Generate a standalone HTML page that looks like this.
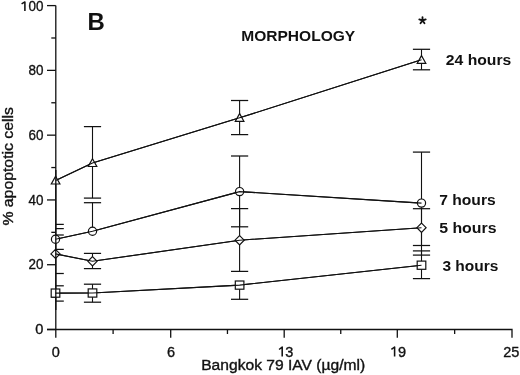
<!DOCTYPE html>
<html><head><meta charset="utf-8"><style>
html,body{margin:0;padding:0;background:#fff;width:520px;height:375px;overflow:hidden}
svg{display:block;will-change:transform}
text{font-family:"Liberation Sans",sans-serif;fill:#111}
text.r{stroke:#111;stroke-width:.35}
</style></head><body>
<svg width="520" height="375" viewBox="0 0 520 375">
<g stroke="#111" stroke-width="1.3" fill="none">
<path d="M55.8 5.5V337.7M47 329.5H512V337.7"/>
<path d="M47 329.50H55.8"/>
<path d="M51.3 297.11H55.8"/>
<path d="M47 264.72H55.8"/>
<path d="M51.3 232.33H55.8"/>
<path d="M47 199.94H55.8"/>
<path d="M51.3 167.55H55.8"/>
<path d="M47 135.16H55.8"/>
<path d="M51.3 102.77H55.8"/>
<path d="M47 70.38H55.8"/>
<path d="M51.3 37.99H55.8"/>
<path d="M47 5.60H55.8"/>
<path d="M113.10 329.5V334"/>
<path d="M170.70 329.5V337.7"/>
<path d="M227.45 329.5V334"/>
<path d="M284.20 329.5V337.7"/>
<path d="M340.75 329.5V334"/>
<path d="M397.30 329.5V337.7"/>
<path d="M454.65 329.5V334"/>
</g>
<g stroke="#111" stroke-width="1.1" fill="none">
<path d="M55.6 180.5 L92.5 163 L239.6 117.8 L421.5 59.8"/>
<path d="M92.5 126.6V198.1"/>
<path stroke-width="1.25" d="M83.9 126.6H101.1"/>
<path stroke-width="1.25" d="M83.9 198.1H101.1"/>
<path d="M239.6 100.5V134.6"/>
<path stroke-width="1.25" d="M231.0 100.5H248.2"/>
<path stroke-width="1.25" d="M231.0 134.6H248.2"/>
<path d="M421.5 49.3V69.8"/>
<path stroke-width="1.25" d="M412.9 49.3H430.1"/>
<path stroke-width="1.25" d="M412.9 69.8H430.1"/>
<path d="M55.5 239.3 L92.5 231.3 L239.6 191.6 L421.5 203.1"/>
<path d="M92.5 202.7V231.3"/>
<path stroke-width="1.25" d="M83.9 202.7H101.1"/>
<path d="M239.6 156.0V226.8"/>
<path stroke-width="1.25" d="M231.0 156.0H248.2"/>
<path stroke-width="1.25" d="M231.0 226.8H248.2"/>
<path d="M421.5 152.1V255.1"/>
<path stroke-width="1.25" d="M412.9 152.1H430.1"/>
<path stroke-width="1.25" d="M412.9 255.1H430.1"/>
<path d="M55.5 253.9 L92.5 261.3 L239.6 240.2 L421.5 227.7"/>
<path d="M92.5 253.4V268.6"/>
<path stroke-width="1.25" d="M83.9 253.4H101.1"/>
<path stroke-width="1.25" d="M83.9 268.6H101.1"/>
<path d="M239.6 208.6V271.4"/>
<path stroke-width="1.25" d="M231.0 208.6H248.2"/>
<path stroke-width="1.25" d="M231.0 271.4H248.2"/>
<path d="M421.5 208.7V245.5"/>
<path stroke-width="1.25" d="M412.9 208.7H430.1"/>
<path stroke-width="1.25" d="M412.9 245.5H430.1"/>
<path d="M55.5 293.1 L92.5 293.0 L239.6 285.1 L421.5 265.2"/>
<path d="M92.5 284.2V302.2"/>
<path stroke-width="1.25" d="M83.9 284.2H101.1"/>
<path stroke-width="1.25" d="M83.9 302.2H101.1"/>
<path d="M239.6 285.1V299.3"/>
<path stroke-width="1.25" d="M231.0 299.3H248.2"/>
<path d="M421.5 250.9V278.6"/>
<path stroke-width="1.25" d="M412.9 250.9H430.1"/>
<path stroke-width="1.25" d="M412.9 278.6H430.1"/>
<path stroke-width="1.25" d="M55.8 224.4H63.8"/>
<path stroke-width="1.25" d="M55.8 228.6H63.8"/>
<path stroke-width="1.25" d="M55.8 235.0H63.8"/>
<path stroke-width="1.25" d="M55.8 249.4H63.8"/>
<path stroke-width="1.25" d="M55.8 273.5H63.8"/>
<path stroke-width="1.25" d="M55.8 285.8H63.8"/>
<path stroke-width="1.25" d="M55.8 301.1H63.8"/>
</g>
<g stroke="#111" stroke-width="1.2" fill="#fff">
<path d="M55.6 176.3L59.9 184.0H51.300000000000004Z"/>
<path d="M92.5 158.8L96.8 166.5H88.2Z"/>
<path d="M239.6 113.6L243.9 121.3H235.29999999999998Z"/>
<path d="M421.5 55.599999999999994L425.8 63.3H417.2Z"/>
<circle cx="55.5" cy="239.3" r="4.1"/>
<circle cx="92.5" cy="231.3" r="4.1"/>
<circle cx="239.6" cy="191.6" r="4.1"/>
<circle cx="421.5" cy="203.1" r="4.1"/>
<path d="M55.5 249.3L60.1 253.9L55.5 258.5L50.9 253.9Z"/>
<path d="M92.5 256.7L97.1 261.3L92.5 265.90000000000003L87.9 261.3Z"/>
<path d="M239.6 235.6L244.2 240.2L239.6 244.79999999999998L235.0 240.2Z"/>
<path d="M421.5 223.1L426.1 227.7L421.5 232.29999999999998L416.9 227.7Z"/>
<rect x="51.2" y="289.0" width="8.6" height="8.2"/>
<rect x="88.2" y="288.9" width="8.6" height="8.2"/>
<rect x="235.29999999999998" y="281.0" width="8.6" height="8.2"/>
<rect x="417.2" y="261.09999999999997" width="8.6" height="8.2"/>
</g>
<g stroke="#111" stroke-width="1.1" fill="none">
<path stroke-width="1.3" d="M55.8 170V310"/>
<path d="M55.6 180.5 L92.5 163 L239.6 117.8 L421.5 59.8"/>
<path d="M55.5 239.3 L92.5 231.3 L239.6 191.6 L421.5 203.1"/>
<path d="M55.5 253.9 L92.5 261.3 L239.6 240.2 L421.5 227.7"/>
<path d="M55.5 293.1 L92.5 293.0 L239.6 285.1 L421.5 265.2"/>
</g>
<path d="M422.5 20.5L422.50 17.15M422.5 20.5L425.69 19.46M422.5 20.5L419.31 19.46M422.5 20.5L424.47 23.21M422.5 20.5L420.53 23.21" stroke="#111" stroke-width="1.85" stroke-linecap="round" fill="none"/>
<text class="r" x="43.4" y="334.1" font-size="14.6" text-anchor="end" font-weight="normal" >0</text>
<text class="r" x="43.4" y="269.32000000000005" font-size="14.6" text-anchor="end" font-weight="normal"  textLength="14.94" lengthAdjust="spacingAndGlyphs">20</text>
<text class="r" x="43.4" y="204.54" font-size="14.6" text-anchor="end" font-weight="normal"  textLength="14.94" lengthAdjust="spacingAndGlyphs">40</text>
<text class="r" x="43.4" y="139.76" font-size="14.6" text-anchor="end" font-weight="normal"  textLength="14.94" lengthAdjust="spacingAndGlyphs">60</text>
<text class="r" x="43.4" y="74.97999999999999" font-size="14.6" text-anchor="end" font-weight="normal"  textLength="14.94" lengthAdjust="spacingAndGlyphs">80</text>
<text class="r" x="43.4" y="11.1" font-size="14.6" text-anchor="end" font-weight="normal"  textLength="14.94" lengthAdjust="spacingAndGlyphs">00</text>
<text class="r" x="55.8" y="357" font-size="14.5" text-anchor="middle" font-weight="normal" >0</text>
<text class="r" x="171" y="357" font-size="14.5" text-anchor="middle" font-weight="normal" >6</text>
<text class="r" x="511.2" y="357" font-size="14.5" text-anchor="middle" font-weight="normal" >25</text>
<text class="r" x="285.3" y="357" font-size="14.5" text-anchor="start" font-weight="normal" >3</text>
<text class="r" x="398.1" y="357" font-size="14.5" text-anchor="start" font-weight="normal" >9</text>
<text class="r" x="201.2" y="370.4" font-size="14" text-anchor="start" font-weight="normal"  textLength="164" lengthAdjust="spacingAndGlyphs">Bangkok 79 IAV (µg/ml)</text>
<text class="r" x="13.3" y="225.6" font-size="13.8" text-anchor="start" font-weight="normal" transform="rotate(-90 13.3 225.6)" textLength="118.5" lengthAdjust="spacingAndGlyphs">% apoptotic cells</text>
<text x="87.5" y="29.6" font-size="24.6" text-anchor="start" font-weight="bold"  textLength="17.3" lengthAdjust="spacingAndGlyphs">B</text>
<text x="241.2" y="41.2" font-size="15" text-anchor="start" font-weight="bold"  textLength="114" lengthAdjust="spacingAndGlyphs">MORPHOLOGY</text>
<text x="445.8" y="65.2" font-size="14.8" text-anchor="start" font-weight="bold"  textLength="65.5" lengthAdjust="spacingAndGlyphs">24 hours</text>
<text x="439.2" y="204.5" font-size="14.8" text-anchor="start" font-weight="bold"  textLength="56.5" lengthAdjust="spacingAndGlyphs">7 hours</text>
<text x="439.2" y="233" font-size="14.8" text-anchor="start" font-weight="bold"  textLength="57.3" lengthAdjust="spacingAndGlyphs">5 hours</text>
<text x="442.4" y="270.8" font-size="14.8" text-anchor="start" font-weight="bold"  textLength="56" lengthAdjust="spacingAndGlyphs">3 hours</text>
<path d="M24.9 10.9V1.9L21.6 3.9" stroke="#111" stroke-width="1.55" fill="none" stroke-linejoin="round"/>
<path d="M282.2 356.6V347.0L279.1 349.5" stroke="#111" stroke-width="1.55" fill="none" stroke-linejoin="round"/>
<path d="M394.6 356.6V347.0L391.4 349.4" stroke="#111" stroke-width="1.55" fill="none" stroke-linejoin="round"/>
</svg>
</body></html>
